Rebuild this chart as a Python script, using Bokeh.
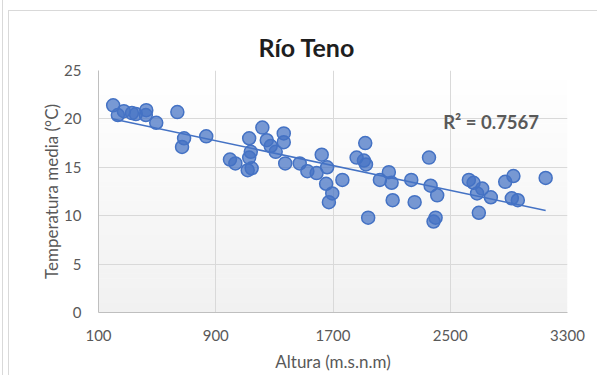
import numpy as np
from bokeh.plotting import figure
from bokeh.models import FixedTicker, Label, BoxAnnotation, Range1d
from bokeh.embed import file_html
from bokeh.resources import INLINE

# Altitude (m a.s.l.) and mean temperature (°C) of the stations
altura = [200, 232, 273, 328, 355, 426, 423, 494, 638, 684, 670, 835,
          997, 1034, 1128, 1139, 1128, 1118, 1145, 1218, 1248, 1275, 1309,
          1364, 1364, 1374, 1473, 1525, 1588, 1623, 1660, 1653, 1695, 1672,
          1764, 1861, 1920, 1911, 1925, 1940, 2020, 2081, 2100, 2107, 2234,
          2257, 2355, 2366, 2411, 2400, 2386, 2627, 2659, 2683, 2718, 2777,
          2695, 2875, 2931, 2920, 2961, 3151]
temperatura = [21.4, 20.4, 20.8, 20.6, 20.5, 20.9, 20.4, 19.6, 20.7, 18.0,
               17.1, 18.2, 15.8, 15.4, 18.0, 16.6, 16.0, 14.7, 14.9, 19.1,
               17.8, 17.2, 16.6, 18.5, 17.6, 15.4, 15.4, 14.6, 14.4, 16.3,
               15.0, 13.3, 12.3, 11.4, 13.7, 16.0, 17.5, 15.7, 15.3, 9.8,
               13.7, 14.5, 13.4, 11.6, 13.7, 11.4, 16.0, 13.1, 12.1, 9.8,
               9.4, 13.7, 13.4, 12.3, 12.8, 11.9, 10.3, 13.5, 14.1, 11.8,
               11.6, 13.9]

x_ticks = [100, 900, 1700, 2500, 3300]
y_ticks = [0, 5, 10, 15, 20, 25]
titulo = "Río Teno"
r2_texto = "R² = 0.7567"

FONT = "Lato"
GREY_TEXT = "#595959"
GRID = "#d9d9d9"
BLUE = "#4472c4"

p = figure(width=597, height=375, output_backend="svg", toolbar_location=None,
           x_range=Range1d(x_ticks[0], x_ticks[-1]),
           y_range=Range1d(y_ticks[0], y_ticks[-1]),
           min_border_left=98, min_border_right=30,
           min_border_top=70, min_border_bottom=63)
p.outline_line_color = None
p.background_fill_color = "white"

# transparent canvas border so the chart-area frame lines of the host show
p.border_fill_alpha = 0
line = "linear-gradient(#d9d9d9, #d9d9d9)"
p.styles = {
    "background": (f"{line} 8px 10px / 1px 100% no-repeat, "
                   f"{line} 8px 10px / 100% 1px no-repeat, "
                   f"{line} 2px 0px / 1px 100% no-repeat, white"),
}

# title, centred on the whole chart area rather than the plot frame
p.title.text = titulo
p.title.text_font = FONT
p.title.text_font_size = "25px"
p.title.text_font_style = "bold"
p.title.text_color = "#1e1e1e"
p.title.align = "left"
p.title.offset = 160
p.title.standoff = 18

# soft vertical gradient inside the plotting area
n_bands = 50
edges = np.linspace(y_ticks[0], y_ticks[-1], n_bands + 1)
for i in range(n_bands):
    t = (i + 0.5) / n_bands
    g = int(round(241 + (255 - 241) * t))
    p.add_layout(BoxAnnotation(bottom=edges[i], top=edges[i + 1] + 0.05,
                               fill_color=f"#{g:02x}{g:02x}{g:02x}",
                               fill_alpha=1.0, line_color=None, level="image"))

# axes
p.xaxis.ticker = FixedTicker(ticks=x_ticks)
p.yaxis.ticker = FixedTicker(ticks=y_ticks)
p.xgrid.ticker = FixedTicker(ticks=x_ticks)
p.ygrid.ticker = FixedTicker(ticks=y_ticks)
for grid in (p.xgrid, p.ygrid):
    grid.grid_line_color = GRID
    grid.grid_line_width = 1

for ax in (p.xaxis, p.yaxis):
    ax.axis_line_color = "#bfbfbf"
    ax.axis_line_width = 1
    ax.major_tick_line_color = None
    ax.minor_tick_line_color = None
    ax.major_tick_out = 0
    ax.major_tick_in = 0
    ax.major_label_text_font = FONT
    ax.major_label_text_font_size = "15px"
    ax.major_label_text_color = GREY_TEXT
    ax.axis_label_text_font = FONT
    ax.axis_label_text_font_size = "17px"
    ax.axis_label_text_font_style = "normal"
    ax.axis_label_text_color = GREY_TEXT

p.xaxis.axis_label = "Altura (m.s.n.m)"
p.yaxis.axis_label = "Temperatura media (°C)"
p.xaxis.major_label_standoff = 17
p.yaxis.major_label_standoff = 17
p.xaxis.axis_label_standoff = 7
p.yaxis.axis_label_standoff = -1

# stations
p.scatter(altura, temperatura, size=13, marker="circle",
          fill_color=BLUE, fill_alpha=0.72, line_color=BLUE, line_width=1.5)

# linear trend line over the data range
xa = np.array(altura, dtype=float)
ya = np.array(temperatura, dtype=float)
m, b = np.polyfit(xa, ya, 1)
xl = np.array([xa.min(), xa.max()])
p.line(xl, m * xl + b, line_color=BLUE, line_width=1.5)

p.add_layout(Label(x=2452, y=19.65, text=r2_texto, text_font=FONT,
                   text_font_size="18.5px", text_font_style="bold",
                   text_color=GREY_TEXT, text_baseline="middle"))

open("out.html", "w").write(file_html(p, INLINE))
